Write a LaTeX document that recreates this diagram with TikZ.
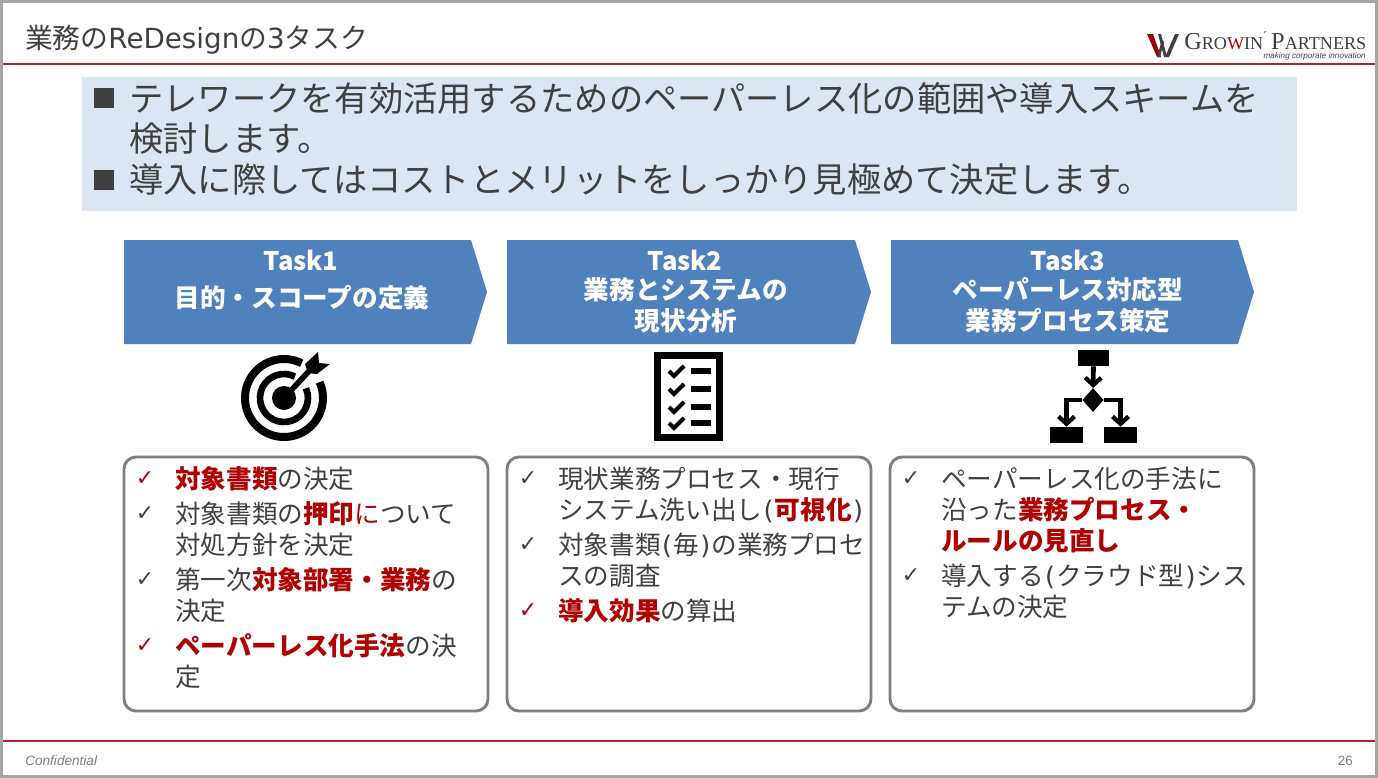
\documentclass[tikz,border=0pt]{standalone}
\usepackage{fontspec}
\setmainfont{Noto Sans CJK JP}
\newfontfamily\djv{DejaVu Sans}
\newfontfamily\lsans{Liberation Sans}
\newfontfamily\lserif{Liberation Serif}
\usetikzlibrary{arrows.meta,shapes.geometric}
\definecolor{ink}{HTML}{404040}
\definecolor{crim}{HTML}{B00000}
\definecolor{rulered}{HTML}{A5252C}
\definecolor{headbg}{HTML}{DCE6F2}
\definecolor{taskblue}{HTML}{4F81BD}
\definecolor{boxgray}{HTML}{7F7F7F}
\definecolor{frame}{HTML}{A6A6A6}
\newcommand{\hot}[1]{{\color{crim}\bfseries #1}}
\newcommand{\lpr}{\kern1pt{\djv(}\kern1pt}
\newcommand{\rpr}{\kern1pt{\djv)}\kern1pt}
\tikzset{
  x=0.75pt,y=-0.75pt,
  txt/.style={anchor=west,inner sep=0pt,text=ink,font=\fontsize{19.2pt}{19.2pt}\selectfont},
  head/.style={anchor=west,inner sep=0pt,text=ink,font=\fontsize{25.7pt}{25.7pt}\selectfont},
  tick/.style={anchor=center,inner sep=0pt,text=ink,font=\djv\fontsize{16.5pt}{16.5pt}\selectfont},
  redtick/.style={tick,text=crim},
  tasklabel/.style={anchor=center,inner sep=0pt,text=white,font=\bfseries\fontsize{19.2pt}{19.2pt}\selectfont},
  taskshape/.style={fill=taskblue,draw=none},
  bodybox/.style={draw=boxgray,line width=2.2pt,rounded corners=9pt,fill=white},
  blk/.style={fill=black,draw=none,inner sep=0pt},
  flowline/.style={line width=3.6pt,draw=black,-{Straight Barb[length=5.5pt,width=12pt,line width=3.2pt]}},
}
\begin{document}
\begin{tikzpicture}
\useasboundingbox (0,0) rectangle (1378,778);
\fill[white] (0,0) rectangle (1378,778);
\draw[frame,line width=2.4pt] (1.5,1.5) rectangle (1376.5,776.5);
\draw[rulered,line width=0.8pt] (3,64) -- (1375,64);
\draw[rulered,line width=0.8pt] (3,741) -- (1375,741);
\node[anchor=west,inner sep=0pt,text=ink,font=\fontsize{20.8pt}{20.8pt}\selectfont] (title) at (25,40) {業務の{\djv ReDesign}の{\djv 3}タスク};
% logo
\fill[crim!85!black] (1147,34) -- (1153,34) -- (1161,57) -- (1157,57) -- cycle;
\fill[ink] (1158,34) -- (1161,34) -- (1167,57) -- (1164,57) -- cycle;
\fill[ink] (1165,57) -- (1169,57) -- (1179,34) -- (1175,34) -- cycle;
\fill[ink] (1157,57) -- (1160,57) -- (1164,42) -- (1162,40) -- cycle;
\node[anchor=base west,inner sep=0pt,text=ink,font=\lserif] (logo) at (1184,49) {\fontsize{18.3pt}{18.3pt}\selectfont G\fontsize{13.6pt}{13.6pt}\selectfont RO{\color{crim}W}IN\raisebox{4pt}{\fontsize{10pt}{10pt}\selectfont\'{}} \fontsize{18.3pt}{18.3pt}\selectfont P\fontsize{13.6pt}{13.6pt}\selectfont ARTNERS};
\node[anchor=east,inner sep=0pt,text=ink,font=\lsans\itshape\fontsize{6.1pt}{6.1pt}\selectfont] (tagline) at (1366,56.5) {making corporate innovation};
% header band
\fill[headbg] (82,77) rectangle (1297,211);
\fill[ink] (94,88) rectangle (114,108);
\fill[ink] (94,170) rectangle (114,190);
\node[head] (h1) at (129,98) {テレワークを有効活用するためのペーパーレス化の範囲や導入スキームを};
\node[head] (h2) at (129,139) {検討します。};
\node[head] (h3) at (129,180) {導入に際してはコストとメリットをしっかり見極めて決定します。};
% task arrows
\fill[taskshape] (124,240) -- (471,240) -- (487,292) -- (471,344) -- (124,344) -- cycle;
\fill[taskshape] (507,240) -- (855,240) -- (871,292) -- (855,344) -- (507,344) -- cycle;
\fill[taskshape] (891,240) -- (1238,240) -- (1254,292) -- (1238,344) -- (891,344) -- cycle;
\node[tasklabel] (t1a) at (301,260) {Task1};
\node[tasklabel] (t1b) at (302,298) {目的・スコープの定義};
\node[tasklabel] (t2a) at (685,260) {Task2};
\node[tasklabel] (t2b) at (686,290) {業務とシステムの};
\node[tasklabel] (t2c) at (686,321) {現状分析};
\node[tasklabel] (t3a) at (1068,260) {Task3};
\node[tasklabel] (t3b) at (1068,290) {ペーパーレス対応型};
\node[tasklabel] (t3c) at (1068,321) {業務プロセス策定};
% target icon
\coordinate (tc) at (284,398);
\draw[black,line width=6pt] (tc) ++(-63:39) arc[start angle=-63,end angle=-384,radius=39];
\draw[black,line width=5pt] (tc) ++(-63:24) arc[start angle=-63,end angle=-384,radius=24];
\draw[white,line width=7pt] (tc) -- (305,375);
\fill[black] (tc) circle[radius=12];
\draw[black,line width=4.2pt] (tc) -- (310,370);
\fill[black] (305,364) -- (318,352) -- (319,363) -- (330,364) -- (317,374) -- (308,373) -- cycle;
% checklist icon
\draw[black,line width=5pt] (657.5,355.5) rectangle (719.5,437.5);
\foreach \yy in {371,389,407,423}{
  \draw[black,line width=3pt] (669,\yy) -- (674,\yy+5) -- (684,\yy-5);
  \fill[black] (691,\yy-3) rectangle (711,\yy+3);
}
% flow icon
\node[blk,minimum width=23.25pt,minimum height=12pt] (ftop) at (1093.5,358) {};
\node[blk,diamond,minimum width=16pt,minimum height=18pt] (fdia) at (1093,400) {};
\node[blk,minimum width=24.75pt,minimum height=12pt] (fbl) at (1066.5,435) {};
\node[blk,minimum width=24.75pt,minimum height=12pt] (fbr) at (1120.5,435) {};
\draw[flowline] (ftop) -- (fdia);
\draw[flowline] (fdia.west) -| (fbl.north);
\draw[flowline] (fdia.east) -| (fbr.north);
% body boxes
\draw[bodybox] (124,457) rectangle (488,711);
\draw[bodybox] (507,457) rectangle (871,711);
\draw[bodybox] (890,457) rectangle (1254,711);
% col 1
\node[redtick] (c1) at (145,479) {✓};
\node[txt] (a1) at (175,479) {\hot{対象書類}の決定};
\node[tick] (c2) at (145,514) {✓};
\node[txt] (a2) at (175,514) {対象書類の\hot{押印}{\color{crim}に}ついて};
\node[txt] (a3) at (175,545) {対処方針を決定};
\node[tick] (c3) at (145,580) {✓};
\node[txt] (a4) at (175,580) {第一次\hot{対象部署・業務}の};
\node[txt] (a5) at (175,611) {決定};
\node[redtick] (c4) at (145,646) {✓};
\node[txt] (a6) at (175,646) {\hot{ペーパーレス化手法}の決};
\node[txt] (a7) at (175,677) {定};
% col 2
\node[tick] (c5) at (528,479) {✓};
\node[txt] (b1) at (558,479) {現状業務プロセス・現行};
\node[txt] (b2) at (558,510) {システム洗い出し\lpr\hot{可視化}\rpr};
\node[tick] (c6) at (528,545) {✓};
\node[txt] (b3) at (558,545) {対象書類\lpr 毎\rpr の業務プロセ};
\node[txt] (b4) at (558,576) {スの調査};
\node[redtick] (c7) at (528,611) {✓};
\node[txt] (b5) at (558,611) {\hot{導入効果}の算出};
% col 3
\node[tick] (c8) at (911,479) {✓};
\node[txt] (d1) at (941,479) {ペーパーレス化の手法に};
\node[txt] (d2) at (941,510) {沿った\hot{業務プロセス・}};
\node[txt] (d3) at (941,541) {\hot{ルールの見直し}};
\node[tick] (c9) at (911,576) {✓};
\node[txt] (d4) at (941,576) {導入する\lpr クラウド型\rpr シス};
\node[txt] (d5) at (941,607) {テムの決定};
% footer
\node[anchor=west,inner sep=0pt,text=boxgray,font=\lsans\itshape\fontsize{10.2pt}{10.2pt}\selectfont] (conf) at (25,761) {Confidential};
\node[anchor=east,inner sep=0pt,text=boxgray,font=\lsans\fontsize{10pt}{10pt}\selectfont] (pg) at (1353,761) {26};
\end{tikzpicture}
\end{document}
